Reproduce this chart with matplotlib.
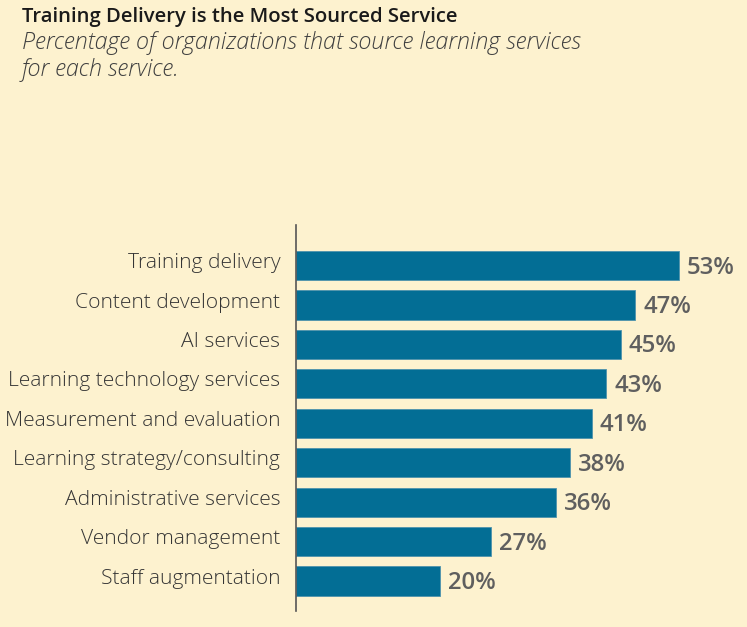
import matplotlib
matplotlib.use("Agg")
import matplotlib.pyplot as plt
import matplotlib.transforms as mtransforms

# data
services = [
    "Training delivery",
    "Content development",
    "AI services",
    "Learning technology services",
    "Measurement and evaluation",
    "Learning strategy/consulting",
    "Administrative services",
    "Vendor management",
    "Staff augmentation",
]
percents = [53, 47, 45, 43, 41, 38, 36, 27, 20]

title = "Training Delivery is the Most Sourced Service"
subtitle_lines = ["Percentage of organizations that source learning services",
                  "for each service."]

bg = "#fdf2cf"
bar_color = "#036e95"
label_color = "#353535"
value_color = "#5f5f5f"

plt.rcParams["font.family"] = ["Open Sans", "DejaVu Sans"]

W, H = 747, 627
fig = plt.figure(figsize=(W / 100, H / 100), dpi=100, facecolor=bg)

# axes box in pixel terms, converted to figure fraction
left_px, right_px = 295.5, 740
top_px, bottom_px = 225, 611
ax = fig.add_axes([left_px / W, 1 - bottom_px / H,
                   (right_px - left_px) / W, (bottom_px - top_px) / H])
ax.set_facecolor(bg)

px_per_pct = 7.23
ypos = list(range(len(services)))
ax.barh(ypos, percents, height=0.74, color=bar_color, edgecolor="#4f93ad", linewidth=0.6)
ax.set_xlim(0, (right_px - left_px) / px_per_pct)
ax.set_ylim(len(services) - 1 + 0.76, -1.03)

ax.set_yticks(ypos)
ax.set_yticklabels(services, fontsize=15.1, color=label_color, fontweight="light")
ax.tick_params(axis="y", length=0, pad=11)
ax.set_xticks([])
# category labels sit a little above the bar centres in the original
shift = mtransforms.ScaledTranslation(0, 5 / 100, fig.dpi_scale_trans)
for lab in ax.get_yticklabels():
    lab.set_transform(lab.get_transform() + shift)

for s in ["top", "right", "bottom"]:
    ax.spines[s].set_visible(False)
ax.spines["left"].set_color("#555555")
ax.spines["left"].set_linewidth(1.2)

for y, v in zip(ypos, percents):
    ax.text(v + 1.1, y + 0.05, f"{v}%", va="center", ha="left",
            fontsize=17.2, fontweight="semibold", color=value_color)

fig.text(22 / W, 1 - 17 / H, title, fontsize=14.6, fontweight="semibold",
         color="#1a1a1a", va="center", ha="left")
fig.text(22 / W, 1 - 43 / H, subtitle_lines[0], fontsize=16.8, style="italic",
         fontweight="light", color="#404040", va="center", ha="left")
fig.text(22 / W, 1 - 70 / H, subtitle_lines[1], fontsize=16.8, style="italic",
         fontweight="light", color="#404040", va="center", ha="left")

fig.savefig("out.png", dpi=100, facecolor=bg)
